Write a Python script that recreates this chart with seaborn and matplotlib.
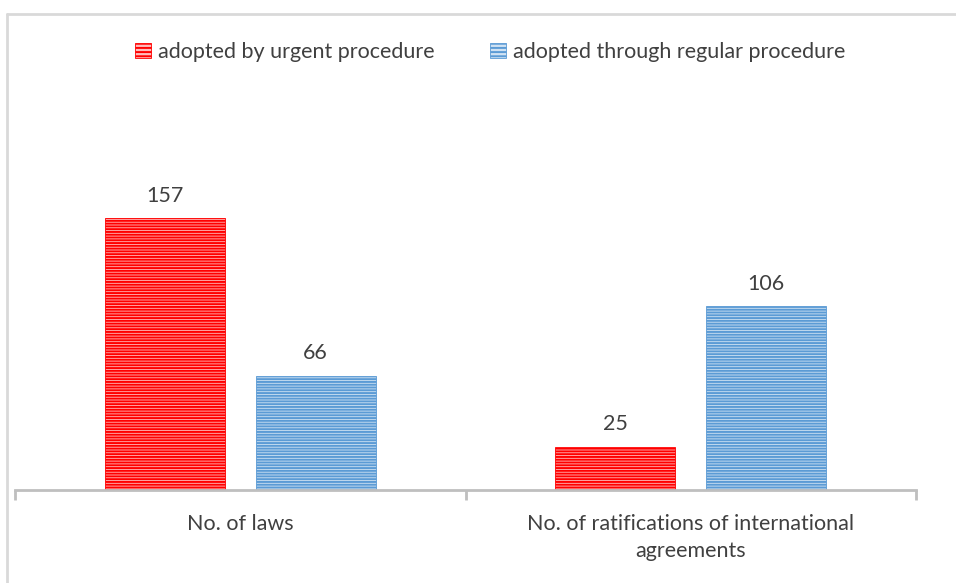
import matplotlib
matplotlib.use("Agg")
import matplotlib.pyplot as plt
import seaborn as sns
import pandas as pd
from matplotlib.lines import Line2D
from matplotlib.patches import Patch

categories = ["No. of laws", "No. of ratifications of international\nagreements"]
series_names = ["adopted by urgent procedure", "adopted through regular procedure"]
urgent = [157, 25]
regular = [66, 106]

df = pd.DataFrame({
    "category": categories * 2,
    "series": [series_names[0]] * 2 + [series_names[1]] * 2,
    "value": urgent + regular,
})

sns.set_theme(style="white")
plt.rcParams["font.family"] = ["Lato", "DejaVu Sans"]
plt.rcParams["hatch.linewidth"] = 1.4

FS = 15.5
TXT = "#404040"

W, H = 956, 583
fig = plt.figure(figsize=(W / 100, H / 100), dpi=100)

# plot area in pixel terms
left_px, right_px, base_px = 15, 916, 490
ymax = 180
px_per_unit = 272 / 157
top_px = base_px - ymax * px_per_unit
ax = fig.add_axes([left_px / W, (H - base_px) / H,
                   (right_px - left_px) / W, (base_px - top_px) / H])

line_colors = {series_names[0]: "#ff0000", series_names[1]: "#5b9bd5"}
face_colors = {series_names[0]: "#ffbcbc", series_names[1]: "#d0e2f3"}

sns.barplot(data=df, x="category", y="value", hue="series",
            hue_order=series_names, order=categories,
            palette=face_colors, width=0.67, gap=0.206,
            legend=False, ax=ax, saturation=1)

for patch, s in zip(ax.patches, [series_names[0]] * 2 + [series_names[1]] * 2):
    patch.set_hatch("------")
    patch.set_edgecolor(line_colors[s])
    patch.set_linewidth(0.6)

for container in ax.containers:
    ax.bar_label(container, fmt="%d", padding=9, fontsize=FS, color=TXT)

ax.set_xlim(-0.5, 1.5)
ax.set_ylim(0, ymax)
ax.set_xlabel("")
ax.set_ylabel("")
ax.set_yticks([])
for side in ["top", "right", "left"]:
    ax.spines[side].set_visible(False)
ax.spines["bottom"].set_color("#bfbfbf")
ax.spines["bottom"].set_linewidth(2)

ax.set_xticks([0, 1])
ax.set_xticklabels(categories, fontsize=FS, color=TXT, linespacing=1.45)
ax.tick_params(axis="x", which="major", length=0, pad=17)
ax.set_xticks([-0.5, 0.5, 1.5], minor=True)
ax.tick_params(axis="x", which="minor", length=7, width=2, color="#bfbfbf",
               direction="out", bottom=True)

handles = [Patch(facecolor=face_colors[s], edgecolor=line_colors[s],
                 hatch="----", linewidth=0.6) for s in series_names]
fig.legend(handles, series_names, loc="center", bbox_to_anchor=(490 / W, 1 - 52 / H),
           ncol=2, frameon=False, fontsize=FS, handlelength=0.75,
           handleheight=0.75, handletextpad=0.3, columnspacing=2.6,
           labelcolor=TXT)

# outer chart frame
fig.add_artist(Line2D([7 / W, 1], [1 - 14 / H, 1 - 14 / H], color="#d9d9d9", lw=2))
fig.add_artist(Line2D([7 / W, 7 / W], [0, 1 - 14 / H], color="#d9d9d9", lw=2))

fig.savefig("out.png", dpi=100)
